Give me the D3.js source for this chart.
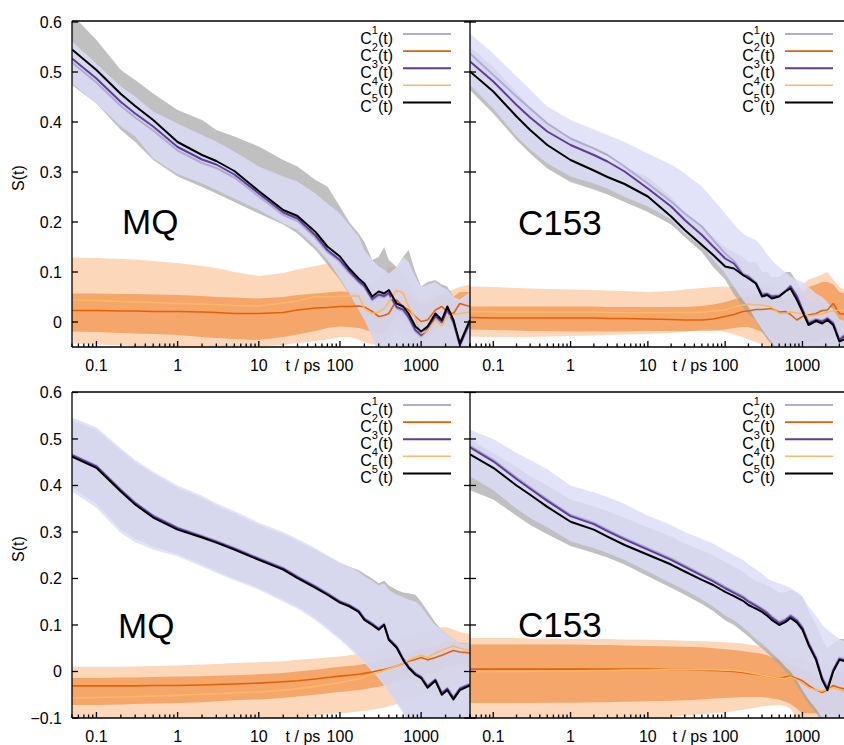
<!DOCTYPE html>
<html><head><meta charset="utf-8">
<script src="https://cdn.jsdelivr.net/npm/d3@7"></script>
<style>
body{margin:0;background:#fff}
svg{display:block}
text{font-family:"Liberation Sans",Arial,Helvetica,sans-serif;fill:#000}
</style>
</head><body>
<svg id="c" width="844" height="745"></svg>
<script>
// ---------------- DATA ----------------
const times = [0.05,0.1,0.2,0.3,0.5,1,2,3,5,10,20,30,50,70,100,130,170,200,250,300,350,400,500,600,700,850,1000,1200,1500,1800,2100,2500,3000,4000];
const xTickValues = [0.1,1,10,100,1000];
const xTickLabels = ["0.1","1","10","100","1000"];
const yTicksTop = [0,0.1,0.2,0.3,0.4,0.5,0.6];
const yTicksBottom = [-0.1,0,0.1,0.2,0.3,0.4,0.5,0.6];
const seriesSup = ["1","2","3","4","5"];
const panelLabels = ["MQ","C153","MQ","C153"];
const xAxisTitle = "t / ps";
const yAxisTitle = "S(t)";

// top-left (MQ)
const tlC1 = [0.519,0.479,0.432,0.409,0.383,0.343,0.318,0.308,0.289,0.251,0.214,0.202,0.168,0.140,0.120,0.098,0.079,0.069,0.043,0.052,0.049,0.055,0.027,0.022,0.007,-0.019,-0.029,-0.017,0.009,-0.003,0.023,-0.003,-0.048,-0.003];
const tlC2 = [0.023,0.023,0.022,0.022,0.021,0.021,0.020,0.019,0.017,0.017,0.019,0.024,0.028,0.029,0.031,0.031,0.032,0.030,0.021,0.011,0.013,0.017,0.044,0.031,0.024,0.011,0.001,0.004,0.024,0.031,0.020,0.017,0.037,0.031];
const tlC3 = [0.527,0.487,0.440,0.417,0.391,0.350,0.325,0.315,0.295,0.257,0.219,0.207,0.173,0.144,0.124,0.102,0.082,0.072,0.046,0.055,0.052,0.058,0.030,0.025,0.010,-0.016,-0.026,-0.014,0.012,0.000,0.026,0.000,-0.046,0.000];
const tlC4 = [0.044,0.043,0.041,0.040,0.039,0.037,0.036,0.035,0.033,0.032,0.038,0.042,0.051,0.050,0.051,0.052,0.052,0.027,0.017,0.020,0.027,0.040,0.064,0.057,0.031,0.007,-0.023,-0.017,0.004,-0.008,0.010,0.015,0.017,0.020];
const tlC5 = [0.545,0.504,0.456,0.432,0.404,0.360,0.334,0.322,0.302,0.262,0.224,0.212,0.180,0.151,0.131,0.107,0.087,0.077,0.051,0.061,0.057,0.064,0.037,0.031,0.017,-0.009,-0.019,-0.009,0.017,0.004,0.031,0.004,-0.043,0.004];
const tlC1Hi = [0.561,0.517,0.471,0.451,0.421,0.397,0.374,0.361,0.341,0.311,0.291,0.281,0.257,0.237,0.217,0.194,0.171,0.144,0.124,0.111,0.105,0.097,0.110,0.130,0.120,0.090,0.070,0.075,0.080,0.070,0.065,0.050,0.045,0.060];
const tlC1Lo = [0.477,0.437,0.391,0.371,0.327,0.296,0.277,0.264,0.247,0.224,0.197,0.184,0.151,0.124,0.087,0.057,0.024,0.004,-0.030,-0.070,-0.080,-0.080,-0.080,-0.080,-0.080,-0.080,-0.080,-0.080,-0.080,-0.080,-0.080,-0.080,-0.080,-0.080];
const tlC5Hi = [0.615,0.564,0.504,0.484,0.457,0.424,0.404,0.384,0.371,0.351,0.324,0.311,0.284,0.271,0.231,0.200,0.177,0.160,0.124,0.130,0.150,0.124,0.110,0.130,0.144,0.100,0.071,0.080,0.084,0.075,0.071,0.050,0.040,0.050];
const tlC5Lo = [0.474,0.437,0.384,0.360,0.324,0.291,0.270,0.257,0.240,0.217,0.195,0.177,0.144,0.115,0.084,0.055,0.024,0.005,-0.029,-0.060,-0.080,-0.080,-0.080,-0.080,-0.080,-0.080,-0.080,-0.080,-0.080,-0.080,-0.080,-0.080,-0.080,-0.080];
const tlC4Hi = [0.129,0.128,0.126,0.125,0.122,0.118,0.112,0.108,0.100,0.092,0.098,0.105,0.112,0.117,0.115,0.110,0.100,0.085,0.075,0.085,0.095,0.110,0.110,0.100,0.080,0.060,0.040,0.050,0.060,0.055,0.060,0.065,0.070,0.075];
const tlC4Lo = [-0.043,-0.045,-0.047,-0.048,-0.050,-0.053,-0.052,-0.050,-0.050,-0.049,-0.046,-0.042,-0.038,-0.035,-0.030,-0.030,-0.035,-0.040,-0.045,-0.045,-0.040,-0.030,-0.010,-0.020,-0.030,-0.050,-0.070,-0.070,-0.060,-0.060,-0.050,-0.050,-0.040,-0.040];
const tlC2Hi = [0.057,0.057,0.056,0.056,0.055,0.054,0.052,0.050,0.049,0.047,0.050,0.054,0.057,0.059,0.061,0.060,0.058,0.050,0.045,0.050,0.055,0.065,0.070,0.065,0.055,0.045,0.035,0.040,0.050,0.055,0.050,0.050,0.060,0.060];
const tlC2Lo = [-0.019,-0.020,-0.022,-0.023,-0.024,-0.026,-0.030,-0.032,-0.034,-0.036,-0.030,-0.025,-0.018,-0.012,-0.009,-0.010,-0.012,-0.015,-0.020,-0.025,-0.020,-0.010,0.015,0.000,-0.010,-0.025,-0.040,-0.035,-0.015,-0.010,-0.010,-0.015,0.000,0.000];

// top-right (C153)
const trC1 = [0.537,0.494,0.451,0.427,0.397,0.367,0.347,0.334,0.311,0.277,0.241,0.217,0.191,0.164,0.137,0.122,0.097,0.092,0.080,0.057,0.058,0.053,0.054,0.063,0.073,0.053,0.026,0.000,0.006,0.003,0.009,0.000,-0.034,-0.018];
const trC2 = [0.009,0.008,0.008,0.008,0.008,0.008,0.008,0.007,0.007,0.006,0.005,0.004,0.004,0.006,0.011,0.015,0.021,0.022,0.025,0.025,0.026,0.027,0.020,0.021,0.015,0.004,0.011,0.014,0.017,0.023,0.024,0.037,0.017,0.015];
const trC3 = [0.521,0.481,0.434,0.409,0.381,0.354,0.334,0.321,0.301,0.267,0.231,0.204,0.174,0.151,0.127,0.117,0.094,0.090,0.077,0.054,0.056,0.051,0.052,0.061,0.071,0.051,0.024,-0.003,0.004,0.001,0.007,-0.003,-0.036,-0.020];
const trC4 = [0.021,0.020,0.020,0.020,0.020,0.020,0.020,0.019,0.019,0.019,0.019,0.019,0.019,0.022,0.024,0.030,0.034,0.036,0.034,0.034,0.032,0.030,0.017,0.017,0.020,0.018,0.017,0.012,0.014,0.016,0.020,0.022,0.024,0.020];
const trC5 = [0.501,0.461,0.411,0.384,0.354,0.324,0.303,0.290,0.276,0.251,0.211,0.184,0.154,0.134,0.111,0.107,0.094,0.087,0.077,0.051,0.054,0.047,0.051,0.061,0.067,0.044,0.021,-0.006,0.002,-0.003,0.004,-0.006,-0.039,-0.030];
const trC1Hi = [0.577,0.537,0.491,0.465,0.431,0.404,0.385,0.374,0.360,0.337,0.315,0.297,0.271,0.245,0.217,0.195,0.177,0.170,0.164,0.150,0.135,0.124,0.110,0.100,0.091,0.085,0.080,0.070,0.057,0.050,0.040,0.025,0.005,0.000];
const trC1Lo = [0.474,0.427,0.371,0.345,0.317,0.291,0.277,0.267,0.250,0.231,0.205,0.177,0.151,0.125,0.097,0.070,0.044,0.030,0.004,-0.015,-0.029,-0.040,-0.060,-0.070,-0.070,-0.070,-0.070,-0.070,-0.070,-0.070,-0.070,-0.070,-0.070,-0.070];
const trC5Hi = [0.550,0.510,0.460,0.430,0.400,0.370,0.340,0.320,0.310,0.290,0.250,0.220,0.190,0.170,0.150,0.140,0.130,0.120,0.120,0.100,0.100,0.090,0.090,0.100,0.100,0.080,0.060,0.040,0.040,0.040,0.040,0.030,0.000,0.000];
const trC5Lo = [0.464,0.417,0.364,0.337,0.307,0.280,0.265,0.255,0.240,0.220,0.195,0.170,0.140,0.110,0.085,0.055,0.030,0.015,0.004,-0.020,-0.035,-0.045,-0.060,-0.070,-0.070,-0.070,-0.070,-0.070,-0.070,-0.070,-0.070,-0.070,-0.070,-0.070];
const trC4Hi = [0.071,0.070,0.068,0.067,0.066,0.065,0.064,0.063,0.062,0.060,0.062,0.065,0.068,0.070,0.071,0.070,0.068,0.068,0.070,0.075,0.075,0.072,0.065,0.060,0.060,0.065,0.075,0.085,0.090,0.095,0.100,0.085,0.070,0.060];
const trC4Lo = [-0.029,-0.030,-0.030,-0.030,-0.029,-0.028,-0.027,-0.026,-0.025,-0.024,-0.022,-0.020,-0.015,-0.015,-0.020,-0.025,-0.030,-0.035,-0.040,-0.045,-0.050,-0.055,-0.060,-0.070,-0.060,-0.060,-0.070,-0.070,-0.060,-0.060,-0.060,-0.060,-0.060,-0.060];
const trC2Hi = [0.031,0.031,0.031,0.031,0.031,0.031,0.031,0.030,0.030,0.030,0.030,0.030,0.032,0.035,0.040,0.045,0.050,0.052,0.055,0.055,0.055,0.055,0.050,0.045,0.045,0.050,0.060,0.070,0.075,0.080,0.080,0.075,0.060,0.055];
const trC2Lo = [-0.015,-0.016,-0.017,-0.018,-0.018,-0.019,-0.019,-0.019,-0.019,-0.018,-0.018,-0.018,-0.018,-0.018,-0.015,-0.012,-0.010,-0.010,-0.015,-0.020,-0.025,-0.030,-0.040,-0.045,-0.045,-0.045,-0.045,-0.040,-0.040,-0.035,-0.030,-0.030,-0.030,-0.030];

// bottom-left (MQ)
const blC1 = [0.467,0.443,0.392,0.364,0.336,0.310,0.292,0.281,0.266,0.244,0.223,0.205,0.184,0.169,0.152,0.144,0.132,0.115,0.104,0.094,0.103,0.072,0.055,0.029,0.012,-0.003,-0.010,-0.030,-0.016,-0.045,-0.035,-0.055,-0.035,-0.026];
const blC2 = [-0.031,-0.031,-0.031,-0.031,-0.030,-0.030,-0.029,-0.028,-0.027,-0.025,-0.022,-0.020,-0.016,-0.013,-0.010,-0.008,-0.006,-0.004,-0.001,0.002,0.004,0.007,0.012,0.017,0.022,0.026,0.030,0.025,0.030,0.035,0.040,0.045,0.042,0.040];
const blC3 = [0.465,0.441,0.390,0.362,0.334,0.308,0.290,0.279,0.264,0.242,0.221,0.203,0.182,0.167,0.150,0.142,0.130,0.113,0.102,0.092,0.101,0.070,0.053,0.027,0.010,-0.005,-0.012,-0.032,-0.018,-0.047,-0.037,-0.057,-0.037,-0.028];
const blC4 = [-0.057,-0.056,-0.055,-0.054,-0.053,-0.051,-0.049,-0.048,-0.046,-0.044,-0.040,-0.037,-0.032,-0.028,-0.024,-0.020,-0.016,-0.012,-0.006,-0.002,0.002,0.006,0.012,0.018,0.024,0.030,0.035,0.030,0.040,0.045,0.050,0.055,0.050,0.045];
const blC5 = [0.462,0.438,0.387,0.359,0.331,0.305,0.288,0.277,0.262,0.240,0.219,0.201,0.180,0.165,0.148,0.140,0.128,0.111,0.100,0.090,0.100,0.068,0.051,0.025,0.008,-0.007,-0.014,-0.035,-0.020,-0.050,-0.040,-0.060,-0.040,-0.030];
const blC1Hi = [0.546,0.525,0.480,0.455,0.430,0.400,0.378,0.362,0.345,0.320,0.300,0.285,0.265,0.250,0.235,0.225,0.215,0.205,0.195,0.185,0.190,0.175,0.165,0.160,0.155,0.150,0.140,0.120,0.100,0.090,0.080,0.070,0.060,0.060];
const blC1Lo = [0.387,0.352,0.298,0.278,0.262,0.248,0.225,0.212,0.196,0.176,0.150,0.135,0.110,0.090,0.068,0.050,0.030,0.018,0.000,-0.015,-0.030,-0.045,-0.070,-0.090,-0.110,-0.120,-0.120,-0.120,-0.120,-0.120,-0.120,-0.120,-0.120,-0.120];
const blC5Hi = [0.540,0.520,0.475,0.450,0.425,0.395,0.373,0.357,0.340,0.315,0.295,0.280,0.262,0.248,0.233,0.225,0.218,0.210,0.200,0.190,0.195,0.185,0.175,0.170,0.168,0.165,0.150,0.130,0.105,0.090,0.080,0.070,0.060,0.060];
const blC5Lo = [0.395,0.360,0.305,0.285,0.268,0.252,0.230,0.216,0.200,0.180,0.155,0.140,0.115,0.095,0.072,0.055,0.035,0.022,0.005,-0.012,-0.027,-0.042,-0.065,-0.085,-0.105,-0.120,-0.120,-0.120,-0.120,-0.120,-0.120,-0.120,-0.120,-0.120];
const blC4Hi = [0.010,0.010,0.010,0.011,0.012,0.013,0.015,0.016,0.018,0.020,0.022,0.025,0.028,0.030,0.032,0.035,0.038,0.040,0.045,0.050,0.055,0.060,0.065,0.070,0.075,0.080,0.085,0.085,0.090,0.095,0.095,0.090,0.085,0.080];
const blC4Lo = [-0.130,-0.130,-0.128,-0.126,-0.124,-0.120,-0.118,-0.116,-0.114,-0.110,-0.105,-0.100,-0.095,-0.092,-0.090,-0.088,-0.086,-0.085,-0.082,-0.080,-0.078,-0.075,-0.070,-0.065,-0.060,-0.055,-0.050,-0.050,-0.045,-0.040,-0.035,-0.030,-0.030,-0.030];
const blC2Hi = [-0.014,-0.014,-0.013,-0.013,-0.012,-0.011,-0.010,-0.009,-0.008,-0.006,-0.003,0.000,0.004,0.007,0.010,0.012,0.014,0.016,0.019,0.022,0.025,0.028,0.032,0.036,0.040,0.045,0.050,0.050,0.055,0.060,0.065,0.065,0.060,0.060];
const blC2Lo = [-0.072,-0.072,-0.071,-0.070,-0.069,-0.068,-0.066,-0.064,-0.062,-0.060,-0.057,-0.054,-0.050,-0.047,-0.044,-0.042,-0.040,-0.038,-0.035,-0.032,-0.030,-0.027,-0.022,-0.018,-0.014,-0.010,-0.005,-0.005,0.000,0.005,0.010,0.015,0.015,0.015];

// bottom-right (C153)
const brC1 = [0.485,0.455,0.417,0.396,0.370,0.337,0.320,0.305,0.287,0.265,0.243,0.228,0.209,0.197,0.182,0.172,0.162,0.153,0.144,0.136,0.128,0.119,0.107,0.113,0.122,0.112,0.096,0.063,0.031,-0.012,-0.034,0.005,0.030,0.025];
const brC2 = [0.005,0.005,0.005,0.005,0.005,0.005,0.005,0.005,0.005,0.005,0.004,0.004,0.003,0.002,0.001,0.000,-0.002,-0.004,-0.006,-0.008,-0.010,-0.012,-0.015,-0.012,-0.010,-0.015,-0.020,-0.030,-0.040,-0.045,-0.040,-0.030,-0.035,-0.040];
const brC3 = [0.482,0.452,0.414,0.393,0.367,0.334,0.317,0.302,0.284,0.262,0.240,0.225,0.206,0.194,0.179,0.169,0.159,0.150,0.141,0.133,0.125,0.116,0.104,0.110,0.119,0.109,0.093,0.060,0.028,-0.015,-0.037,0.002,0.027,0.022];
const brC4 = [0.000,0.000,0.000,0.000,0.001,0.001,0.002,0.002,0.003,0.003,0.004,0.004,0.004,0.004,0.003,0.002,0.000,-0.002,-0.005,-0.008,-0.010,-0.012,-0.015,-0.015,-0.012,-0.018,-0.025,-0.035,-0.040,-0.042,-0.038,-0.035,-0.040,-0.045];
const brC5 = [0.467,0.438,0.400,0.380,0.354,0.322,0.305,0.290,0.272,0.251,0.230,0.215,0.197,0.186,0.171,0.162,0.152,0.143,0.135,0.128,0.120,0.111,0.100,0.106,0.115,0.105,0.090,0.057,0.025,-0.018,-0.040,0.000,0.025,0.020];
const brC1Hi = [0.520,0.500,0.470,0.455,0.435,0.400,0.385,0.375,0.360,0.335,0.315,0.300,0.285,0.275,0.260,0.250,0.240,0.230,0.220,0.210,0.200,0.195,0.190,0.185,0.180,0.170,0.160,0.140,0.120,0.100,0.090,0.080,0.070,0.060];
const brC1Lo = [0.420,0.390,0.350,0.330,0.310,0.280,0.265,0.255,0.240,0.215,0.190,0.175,0.155,0.140,0.120,0.110,0.095,0.085,0.070,0.060,0.050,0.040,0.025,0.010,0.000,-0.020,-0.040,-0.060,-0.080,-0.100,-0.110,-0.110,-0.110,-0.110];
const brC5Hi = [0.500,0.470,0.440,0.420,0.400,0.370,0.355,0.345,0.330,0.310,0.290,0.275,0.260,0.250,0.235,0.225,0.215,0.205,0.195,0.190,0.185,0.180,0.170,0.170,0.175,0.170,0.160,0.130,0.100,0.070,0.050,0.060,0.070,0.070];
const brC5Lo = [0.390,0.370,0.335,0.315,0.295,0.270,0.255,0.245,0.230,0.205,0.180,0.165,0.145,0.130,0.110,0.100,0.085,0.075,0.060,0.050,0.040,0.030,0.015,0.000,-0.010,-0.030,-0.050,-0.070,-0.090,-0.110,-0.120,-0.120,-0.120,-0.120];
const brC4Hi = [0.072,0.072,0.072,0.071,0.071,0.070,0.070,0.070,0.069,0.068,0.067,0.066,0.065,0.064,0.063,0.062,0.060,0.058,0.056,0.054,0.050,0.045,0.040,0.035,0.030,0.030,0.030,0.020,0.010,0.000,0.000,0.010,0.020,0.020];
const brC4Lo = [-0.120,-0.120,-0.120,-0.120,-0.115,-0.115,-0.110,-0.110,-0.105,-0.100,-0.098,-0.095,-0.092,-0.090,-0.088,-0.085,-0.082,-0.080,-0.078,-0.075,-0.074,-0.073,-0.072,-0.075,-0.080,-0.100,-0.120,-0.120,-0.120,-0.120,-0.120,-0.120,-0.120,-0.120];
const brC2Hi = [0.058,0.058,0.058,0.058,0.058,0.058,0.057,0.057,0.056,0.055,0.054,0.053,0.052,0.050,0.048,0.046,0.044,0.042,0.040,0.038,0.035,0.030,0.025,0.020,0.015,0.010,0.005,0.000,-0.010,-0.020,-0.020,-0.010,0.000,0.000];
const brC2Lo = [-0.068,-0.068,-0.068,-0.068,-0.067,-0.067,-0.066,-0.066,-0.065,-0.064,-0.063,-0.062,-0.060,-0.058,-0.057,-0.056,-0.055,-0.055,-0.055,-0.055,-0.056,-0.058,-0.060,-0.065,-0.070,-0.080,-0.090,-0.090,-0.090,-0.090,-0.090,-0.090,-0.090,-0.090];

// ---------------- STYLE / LAYOUT ----------------
const lineColors = ["#b2abd2","#e66101","#5e3c99","#fdb863","#000000"];
const lineWidths = [2,1.6,2,1.6,2];

const panels = [
  {label:panelLabels[0], lines:[tlC1,tlC2,tlC3,tlC4,tlC5],
   bands:{c1:[tlC1Lo,tlC1Hi],c2:[tlC2Lo,tlC2Hi],c4:[tlC4Lo,tlC4Hi],c5:[tlC5Lo,tlC5Hi]},
   x0:72,x1:470,xr1:470,yTop:21,yBot:347,yDom:[-0.05,0.602],yTicks:yTicksTop,left:true,lab:[122,234],legEnd:451},
  {label:panelLabels[1], lines:[trC1,trC2,trC3,trC4,trC5],
   bands:{c1:[trC1Lo,trC1Hi],c2:[trC2Lo,trC2Hi],c4:[trC4Lo,trC4Hi],c5:[trC5Lo,trC5Hi]},
   x0:470,x1:844,xr1:849,yTop:21,yBot:347,yDom:[-0.05,0.602],yTicks:yTicksTop,left:false,lab:[518,235],legEnd:833},
  {label:panelLabels[2], lines:[blC1,blC2,blC3,blC4,blC5],
   bands:{c1:[blC1Lo,blC1Hi],c2:[blC2Lo,blC2Hi],c4:[blC4Lo,blC4Hi],c5:[blC5Lo,blC5Hi]},
   x0:72,x1:470,xr1:470,yTop:392,yBot:718,yDom:[-0.1,0.601],yTicks:yTicksBottom,left:true,lab:[118,638],legEnd:451},
  {label:panelLabels[3], lines:[brC1,brC2,brC3,brC4,brC5],
   bands:{c1:[brC1Lo,brC1Hi],c2:[brC2Lo,brC2Hi],c4:[brC4Lo,brC4Hi],c5:[brC5Lo,brC5Hi]},
   x0:470,x1:844,xr1:849,yTop:392,yBot:718,yDom:[-0.1,0.601],yTicks:yTicksBottom,left:false,lab:[518,637],legEnd:833}
];

const svg = d3.select("#c");
const defs = svg.append("defs");
const fmtY = v => v===0 ? "0" : (v<0 ? "\u2212"+Math.abs(v).toFixed(1) : v.toFixed(1));

panels.forEach((p,pi) => {
  const x = d3.scaleLog().domain([0.05,4000]).range([p.x0,p.xr1]);
  const y = d3.scaleLinear().domain(p.yDom).range([p.yBot,p.yTop]);
  const clipId = "clip"+pi;
  defs.append("clipPath").attr("id",clipId).append("rect")
    .attr("x",p.x0).attr("y",p.yTop).attr("width",p.x1-p.x0).attr("height",p.yBot-p.yTop);
  const g = svg.append("g").attr("clip-path",`url(#${clipId})`);

  const area = (lo,hi) => d3.area().x((d,i)=>x(times[i])).y0((d,i)=>y(lo[i])).y1((d,i)=>y(hi[i]))(times);
  const bandStyles = [
    ["c4","#fb9a50",0.40],
    ["c2","#e66101",0.42],
    ["c5","#a5a5a5",0.70],
    ["c1","#dcdcf6",0.82]
  ];
  bandStyles.forEach(([k,col,op]) => {
    g.append("path").attr("d",area(p.bands[k][0],p.bands[k][1]))
      .attr("fill",col).attr("fill-opacity",op).attr("stroke","none");
  });

  const line = d3.line().x((d,i)=>x(times[i])).y(d=>y(d));
  p.lines.forEach((arr,k) => {
    g.append("path").attr("d",line(arr)).attr("fill","none")
      .attr("stroke",lineColors[k]).attr("stroke-width",lineWidths[k]).attr("stroke-linejoin","round");
  });

  // frame
  const fr = svg.append("g").attr("stroke","#000").attr("stroke-width",1.3).attr("fill","none");
  fr.append("line").attr("x1",p.x0).attr("x2",p.x1).attr("y1",p.yTop).attr("y2",p.yTop);
  fr.append("line").attr("x1",p.x0).attr("x2",p.x1).attr("y1",p.yBot).attr("y2",p.yBot);
  fr.append("line").attr("x1",p.x0).attr("x2",p.x0).attr("y1",p.yTop).attr("y2",p.yBot);

  // y ticks (inward)
  p.yTicks.forEach(v => {
    fr.append("line").attr("x1",p.x0).attr("x2",p.x0+6).attr("y1",y(v)).attr("y2",y(v));
    if (p.left) fr.append("line").attr("x1",p.x1).attr("x2",p.x1-6).attr("y1",y(v)).attr("y2",y(v));
  });
  if (p.left) {
    p.yTicks.forEach(v => {
      svg.append("text").attr("x",62).attr("y",y(v)).attr("dy","0.36em")
        .attr("text-anchor","end").attr("font-size",16).text(fmtY(v));
    });
    svg.append("text").attr("transform",`translate(24,${(p.yTop+p.yBot)/2-6}) rotate(-90)`)
      .attr("text-anchor","middle").attr("font-size",16).text(yAxisTitle);
  }

  // x ticks
  const minors = [];
  for (let e=-2; e<=3; e++) for (let m=2; m<=9; m++) { const t=m*Math.pow(10,e); if (t>=0.05 && t<=4000) minors.push(t); }
  minors.forEach(t => { if (x(t)<=p.x1) fr.append("line").attr("x1",x(t)).attr("x2",x(t)).attr("y1",p.yBot).attr("y2",p.yBot-3.5); });
  xTickValues.forEach((t,i) => {
    fr.append("line").attr("x1",x(t)).attr("x2",x(t)).attr("y1",p.yBot).attr("y2",p.yBot-6);
    svg.append("text").attr("x",x(t)).attr("y",p.yBot+24).attr("text-anchor","middle")
      .attr("font-size",16).text(xTickLabels[i]);
  });
  svg.append("text").attr("x",x(35)).attr("y",p.yBot+24).attr("text-anchor","middle")
    .attr("font-size",16).text(xAxisTitle);

  // panel label
  svg.append("text").attr("x",p.lab[0]).attr("y",p.lab[1]).attr("font-size",35).text(p.label);

  // legend
  seriesSup.forEach((s,k) => {
    const ly = p.yTop + 13 + k*17.1;
    const t = svg.append("text").attr("x",p.legEnd-58).attr("y",ly+10).attr("text-anchor","end").attr("font-size",16);
    t.append("tspan").text("C");
    t.append("tspan").attr("font-size",11).attr("dy",-10).text(s);
    t.append("tspan").attr("dy",10).text("(t)");
    svg.append("line").attr("x1",p.legEnd-48).attr("x2",p.legEnd).attr("y1",ly).attr("y2",ly)
      .attr("stroke",lineColors[k]).attr("stroke-width",lineWidths[k]);
  });
});
</script>
</body></html>
